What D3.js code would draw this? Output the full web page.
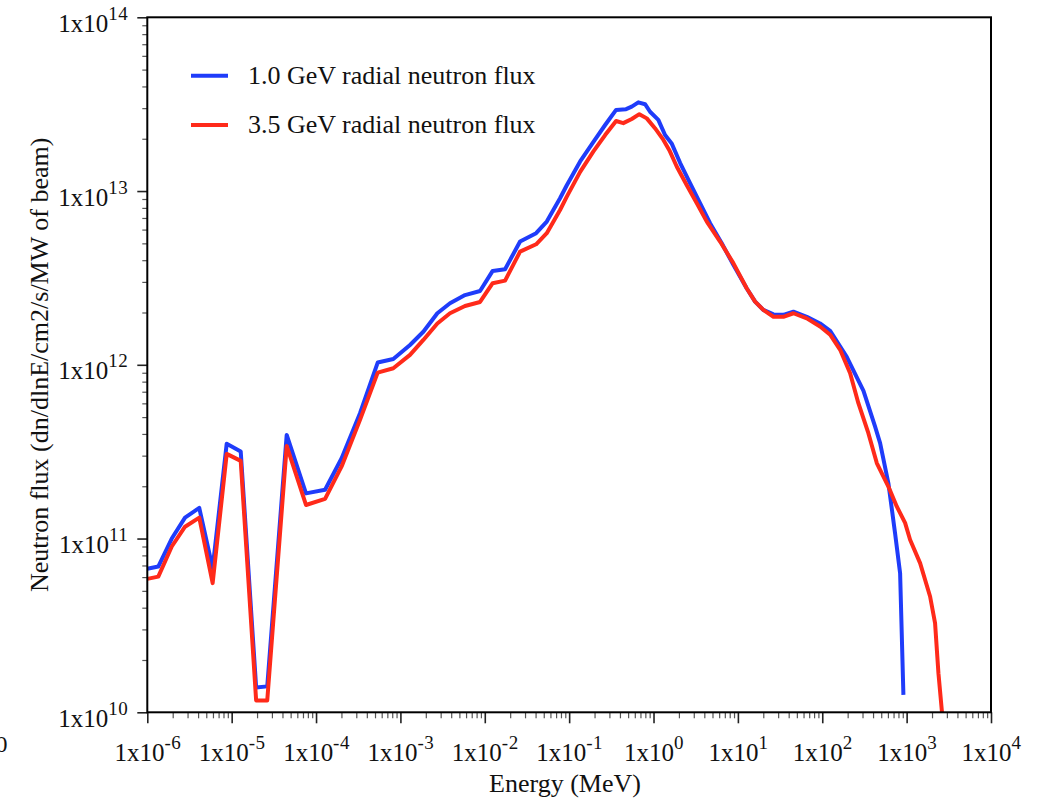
<!DOCTYPE html>
<html>
<head>
<meta charset="utf-8">
<script src="https://cdn.jsdelivr.net/npm/d3@7"></script>
<style>
  body { margin: 0; background: #fff; }
  svg { display: block; font-family: "Liberation Serif", "Times New Roman", serif; }
</style>
</head>
<body>
<script>

// Energy (MeV) and radial flux for the 1.0 GeV beam.
var blueEnergy = [
  1e-6, 1.35e-6, 1.95e-6, 2.8e-6, 4.13e-6, 5.95e-6, 8.73e-6, 1.28e-5,
  1.95e-5, 2.64e-5, 4.49e-5, 7.6e-5, 1.28e-4, 2.01e-4, 3.32e-4, 5.38e-4,
  8.24e-4, 1.3e-3, 1.87e-3, 2.74e-3, 3.87e-3, 5.83e-3, 8.79e-3, 1.24e-2,
  1.74e-2, 2.62e-2, 4.06e-2, 5.43e-2, 7.8e-2, 9.38e-2, 0.135, 0.194,
  0.267, 0.36, 0.473, 0.552, 0.661, 0.794, 0.91, 1.14, 1.37, 1.64, 2.07,
  2.71, 3.56, 4.68, 6.44, 8.83, 12.7, 16.0, 20.0, 26.4, 34.6, 45.5, 65.6,
  94.2, 124, 195, 308, 423, 485, 608, 730, 837, 916
];
var blueFlux = [
  6.7e10, 6.9e10, 1.0e11, 1.32e11, 1.5e11, 6.76e10, 3.51e11, 3.17e11,
  1.39e10, 1.41e10, 3.95e11, 1.82e11, 1.91e11, 2.9e11, 5.27e11, 1.03e12,
  1.08e12, 1.3e12, 1.55e12, 1.98e12, 2.26e12, 2.52e12, 2.66e12, 3.47e12,
  3.55e12, 5.12e12, 5.72e12, 6.67e12, 9.09e12, 1.08e13, 1.48e13, 1.92e13,
  2.4e13, 2.93e13, 2.96e13, 3.06e13, 3.24e13, 3.16e13, 2.86e13, 2.57e13,
  2.1e13, 1.88e13, 1.45e13, 1.11e13, 8.51e12, 6.53e12, 5.01e12, 3.76e12,
  2.76e12, 2.31e12, 2.07e12, 1.95e12, 1.94e12, 2.02e12, 1.89e12, 1.73e12,
  1.57e12, 1.11e12, 7.08e11, 4.41e11, 3.54e11, 2.08e11, 1.07e11, 6.32e10,
  1.26e10
];

// Energy (MeV) and radial flux for the 3.5 GeV beam.
var redEnergy = [
  1e-6, 1.35e-6, 1.95e-6, 2.8e-6, 4.13e-6, 5.95e-6, 8.73e-6, 1.28e-5,
  1.95e-5, 2.64e-5, 4.49e-5, 7.6e-5, 1.28e-4, 2.01e-4, 3.32e-4, 5.38e-4,
  8.24e-4, 1.3e-3, 1.87e-3, 2.74e-3, 3.87e-3, 5.83e-3, 8.79e-3, 1.24e-2,
  1.74e-2, 2.62e-2, 4.06e-2, 5.43e-2, 7.8e-2, 9.38e-2, 0.135, 0.194,
  0.267, 0.36, 0.438, 0.552, 0.679, 0.832, 1.04, 1.31, 1.54, 1.89, 2.48,
  3.26, 4.28, 6.15, 8.83, 12.7, 16.0, 20.0, 26.4, 34.6, 45.5, 65.6, 94.2,
  124, 163, 214, 268, 352, 443, 608, 764, 959, 1099, 1445, 1897, 2173,
  2382, 2650
];
var redFlux = [
  5.86e10, 6.04e10, 9.0e10, 1.17e11, 1.32e11, 5.54e10, 3.07e11, 2.8e11,
  1.17e10, 1.17e10, 3.41e11, 1.56e11, 1.69e11, 2.6e11, 4.82e11, 9.02e11,
  9.55e11, 1.14e12, 1.39e12, 1.73e12, 1.98e12, 2.18e12, 2.3e12, 2.95e12,
  3.05e12, 4.48e12, 4.94e12, 5.72e12, 7.78e12, 9.29e12, 1.29e13, 1.69e13,
  2.1e13, 2.53e13, 2.46e13, 2.6e13, 2.77e13, 2.62e13, 2.3e13, 1.97e13,
  1.72e13, 1.38e13, 1.08e13, 8.51e12, 6.67e12, 5.12e12, 3.85e12, 2.76e12,
  2.31e12, 2.07e12, 1.89e12, 1.89e12, 1.98e12, 1.85e12, 1.66e12, 1.49e12,
  1.22e12, 8.95e11, 6.01e11, 4.04e11, 2.72e11, 1.99e11, 1.53e11, 1.23e11,
  9.84e10, 7.22e10, 4.64e10, 3.26e10, 1.68e10, 9.5e9
];

// Decade exponents for the tick labels.
var xTickExps = [-6, -5, -4, -3, -2, -1, 0, 1, 2, 3, 4];
var yTickExps = [10, 11, 12, 13, 14];

var seriesNames = [
  '1.0 GeV radial neutron flux',
  '3.5 GeV radial neutron flux'
];
var seriesColors = ['#1f3cfa', '#ff2a1a'];


var W = 1039, H = 801;
var plot = { left: 147.3, right: 991, top: 17.3, bottom: 712.3 };

var svg = d3.select('body').append('svg')
  .attr('width', W)
  .attr('height', H);

var x = d3.scaleLog()
  .domain([1e-6, 1e4])
  .range([plot.left, plot.right]);

var y = d3.scaleLog()
  .domain([1e10, 1e14])
  .range([plot.bottom, plot.top]);


/**
 * Build the minor tick values (2..9 x 10^n) between two decades.
 */
function minors(lo, hi) {
  var out = [];
  for (var e = lo; e < hi; e++) {
    for (var m = 2; m <= 9; m++) out.push(m * Math.pow(10, e));
  }
  return out;
}

/**
 * Replace an axis label with "1x10" plus a raised exponent.
 */
function powerLabel(text, exps) {
  text.each(function(d, i) {
    var t = d3.select(this).text(null);
    t.append('tspan').text('1x10');
    t.append('tspan')
      .attr('dy', -12)
      .attr('font-size', 19)
      .attr('letter-spacing', 0.5)
      .text(exps[i]);
  });
}

/**
 * Strip the axis defaults so the serif font of the svg applies.
 */
function plain(g) {
  g.attr('font-family', null).attr('font-size', null);
  g.select('.domain').remove();
}


// Minor ticks.
svg.append('g')
  .attr('transform', 'translate(' + plot.left + ',0)')
  .call(d3.axisLeft(y).tickValues(minors(10, 14))
    .tickSize(5).tickSizeOuter(0).tickFormat(''))
  .call(plain)
  .selectAll('line').attr('stroke', '#555').attr('stroke-width', 1.2);

svg.append('g')
  .attr('transform', 'translate(0,' + plot.bottom + ')')
  .call(d3.axisBottom(x).tickValues(minors(-6, 4))
    .tickSize(6).tickSizeOuter(0).tickFormat(''))
  .call(plain)
  .selectAll('line').attr('stroke', '#555').attr('stroke-width', 1.2);

// Major ticks and labels.
var yAxis = svg.append('g')
  .attr('transform', 'translate(' + plot.left + ',0)')
  .call(d3.axisLeft(y)
    .tickValues(yTickExps.map(function(e) { return Math.pow(10, e); }))
    .tickSize(10).tickSizeOuter(0).tickPadding(9))
  .call(plain);
yAxis.selectAll('line').attr('stroke', '#222').attr('stroke-width', 1.6);
yAxis.selectAll('text')
  .attr('dy', null).attr('y', 14)
  .attr('fill', '#111')
  .attr('font-size', 25)
  .call(powerLabel, yTickExps);

var xAxis = svg.append('g')
  .attr('transform', 'translate(0,' + plot.bottom + ')')
  .call(d3.axisBottom(x)
    .tickValues(xTickExps.map(function(e) { return Math.pow(10, e); }))
    .tickSize(11).tickSizeOuter(0))
  .call(plain);
xAxis.selectAll('line').attr('stroke', '#222').attr('stroke-width', 1.6);
xAxis.selectAll('text')
  .attr('dy', null).attr('y', 49)
  .attr('fill', '#111')
  .attr('font-size', 25)
  .call(powerLabel, xTickExps);


// Curves, clipped to the plot frame.
svg.append('clipPath').attr('id', 'plot-clip')
  .append('rect')
  .attr('x', plot.left).attr('y', plot.top)
  .attr('width', plot.right - plot.left)
  .attr('height', plot.bottom - plot.top);

var line = d3.line()
  .x(function(d) { return x(d[0]); })
  .y(function(d) { return y(d[1]); });

var series = [
  d3.zip(blueEnergy, blueFlux),
  d3.zip(redEnergy, redFlux)
];

svg.append('g')
  .attr('clip-path', 'url(#plot-clip)')
  .selectAll('path')
  .data(series)
  .join('path')
  .attr('d', line)
  .attr('fill', 'none')
  .attr('stroke', function(d, i) { return seriesColors[i]; })
  .attr('stroke-width', 4)
  .attr('stroke-linejoin', 'round');

// Frame.
svg.append('rect')
  .attr('x', plot.left).attr('y', plot.top)
  .attr('width', plot.right - plot.left)
  .attr('height', plot.bottom - plot.top)
  .attr('fill', 'none')
  .attr('stroke', '#000')
  .attr('stroke-width', 2);


// Legend.
var legend = svg.append('g')
  .selectAll('g')
  .data(seriesNames)
  .join('g')
  .attr('transform', function(d, i) {
    return 'translate(191,' + (75.7 + i * 49.3) + ')';
  });

legend.append('line')
  .attr('x1', 0).attr('x2', 37)
  .attr('stroke', function(d, i) { return seriesColors[i]; })
  .attr('stroke-width', 4);

legend.append('text')
  .attr('x', 57).attr('y', 8)
  .attr('font-size', 26)
  .attr('fill', '#111')
  .text(function(d) { return d; });


// Axis titles.
svg.append('text')
  .attr('x', 565).attr('y', 792)
  .attr('text-anchor', 'middle')
  .attr('font-size', 26)
  .attr('fill', '#111')
  .text('Energy (MeV)');

svg.append('text')
  .attr('transform',
    'translate(48,' + ((plot.top + plot.bottom) / 2) + ') rotate(-90)')
  .attr('text-anchor', 'middle')
  .attr('font-size', 26)
  .attr('fill', '#111')
  .text('Neutron flux (dn/dlnE/cm2/s/MW of beam)');

// Stray clipped digit at the left edge of the original figure.
svg.append('text')
  .attr('x', 7.5).attr('y', 752)
  .attr('text-anchor', 'end')
  .attr('font-size', 24)
  .attr('fill', '#111')
  .text('0');

</script>
</body>
</html>
